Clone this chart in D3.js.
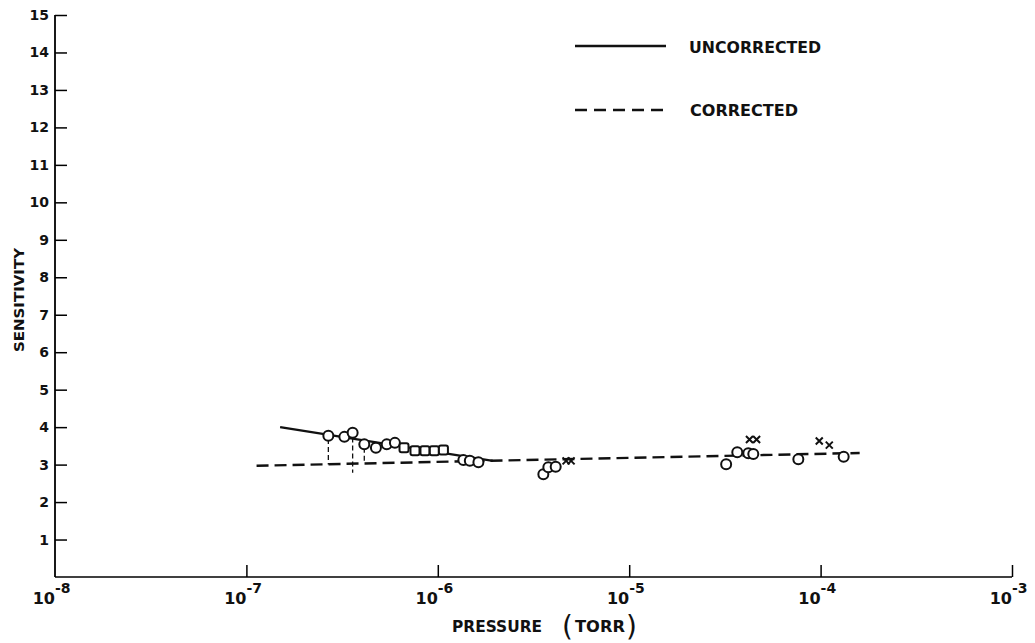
<!DOCTYPE html>
<html>
<head>
<meta charset="utf-8">
<script src="https://cdn.jsdelivr.net/npm/d3@7"></script>
<style>
  body { margin: 0; background: #fff; }
  text { font-family: "DejaVu Sans", sans-serif; font-weight: bold; fill: #111; }
</style>
</head>
<body>
<div id="chart"></div>
<script>
// values
const yTicks = [1,2,3,4,5,6,7,8,9,10,11,12,13,14,15]
const xExponents = [-8,-7,-6,-5,-4,-3]

const uncorrectedP = [1.5e-7, 1.94e-6]
const uncorrectedS = [4.0, 3.1]
const correctedP = [1.13e-7, 1.6e-4]
const correctedS = [2.97, 3.31]

const circleP = [2.68e-7, 3.25e-7, 3.59e-7, 4.13e-7, 4.75e-7, 5.41e-7, 5.97e-7,
  1.36e-6, 1.47e-6, 1.63e-6, 3.56e-6, 3.78e-6, 4.13e-6,
  3.21e-5, 3.67e-5, 4.19e-5, 4.45e-5, 7.65e-5, 1.32e-4]
const circleS = [3.77, 3.74, 3.85, 3.54, 3.45, 3.54, 3.58,
  3.12, 3.10, 3.06, 2.74, 2.93, 2.94,
  3.01, 3.33, 3.30, 3.28, 3.14, 3.21]
const squareP = [6.66e-7, 7.6e-7, 8.57e-7, 9.59e-7, 1.07e-6]
const squareS = [3.45, 3.37, 3.37, 3.37, 3.39]
const crossP = [4.68e-6, 4.97e-6, 4.25e-5, 4.63e-5, 9.84e-5, 1.11e-4]
const crossS = [3.10, 3.10, 3.67, 3.67, 3.63, 3.52]

// vertical correction drops
const dropP = [2.68e-7, 3.59e-7, 4.13e-7]
const dropTop = [3.68, 3.72, 3.45]
const dropBottom = [3.0, 2.78, 3.05]

const width = 1035, height = 643

const svg = d3.select("#chart").append("svg")
  .attr("width", width)
  .attr("height", height)

const x = d3.scaleLog().domain([1e-8, 1e-3]).range([55, 1012])
const y = d3.scaleLinear().domain([0, 15]).range([577, 15])

// axes
const yAxis = svg.append("g")
  .attr("transform", `translate(${x(1e-8)},0)`)
  .call(d3.axisRight(y).tickValues(yTicks).tickSize(12).tickFormat(""))
yAxis.select(".domain").attr("stroke-width", 1.8).attr("d", `M0,${y(15)}V${y(0)}`)
yAxis.selectAll(".tick line").attr("stroke-width", 1.5)

const xAxis = svg.append("g")
  .attr("transform", `translate(0,${y(0)})`)
  .call(d3.axisTop(x).tickValues(xExponents.slice(1).map(e => Math.pow(10, e))).tickSize(12).tickFormat(""))
xAxis.select(".domain").attr("stroke-width", 1.5).attr("d", `M${x(1e-8)},0H${x(1e-3)}`)
xAxis.selectAll(".tick line").attr("stroke-width", 1.5)

// y tick labels
svg.selectAll(".ylab")
  .data(yTicks)
  .join("text")
    .attr("x", 49)
    .attr("y", d => y(d) + 5)
    .attr("text-anchor", "end")
    .style("font-size", "14px")
    .text(d => d)

// x tick labels 10^n
xExponents.forEach(e => {
  const px = x(Math.pow(10, e))
  svg.append("text")
    .attr("x", px)
    .attr("y", 604)
    .attr("text-anchor", "end")
    .style("font-size", "16px")
    .text("10")
  svg.append("text")
    .attr("x", px)
    .attr("y", 593)
    .attr("text-anchor", "start")
    .style("font-size", "14px")
    .text(e)
})

// axis titles
svg.append("text")
  .attr("transform", "translate(24,300) rotate(-90)")
  .attr("text-anchor", "middle")
  .style("font-size", "14px")
  .attr("textLength", 104)
  .attr("lengthAdjust", "spacingAndGlyphs")
  .text("SENSITIVITY")

svg.append("text")
  .attr("x", 452)
  .attr("y", 632)
  .style("font-size", "15px")
  .attr("textLength", 90)
  .attr("lengthAdjust", "spacingAndGlyphs")
  .text("PRESSURE")
svg.append("text")
  .attr("x", 575)
  .attr("y", 632)
  .style("font-size", "15px")
  .attr("textLength", 50)
  .attr("lengthAdjust", "spacingAndGlyphs")
  .text("TORR")
svg.append("text")
  .attr("x", 562)
  .attr("y", 636)
  .style("font-size", "28px")
  .style("font-weight", "normal")
  .text("(")
svg.append("text")
  .attr("x", 626)
  .attr("y", 636)
  .style("font-size", "28px")
  .style("font-weight", "normal")
  .text(")")

// lines
const line = d3.line().x(d => x(d[0])).y(d => y(d[1]))

svg.append("path")
  .datum(correctedP.map((p, i) => [p, correctedS[i]]))
  .attr("d", line)
  .attr("fill", "none")
  .attr("stroke", "#111")
  .attr("stroke-width", 2.4)
  .attr("stroke-dasharray", "12,6")

svg.append("path")
  .datum(uncorrectedP.map((p, i) => [p, uncorrectedS[i]]))
  .attr("d", line)
  .attr("fill", "none")
  .attr("stroke", "#111")
  .attr("stroke-width", 2.4)

svg.selectAll(".drop")
  .data(dropP)
  .join("line")
    .attr("x1", d => x(d))
    .attr("x2", d => x(d))
    .attr("y1", (d, i) => y(dropTop[i]))
    .attr("y2", (d, i) => y(dropBottom[i]))
    .attr("stroke", "#111")
    .attr("stroke-width", 1.3)
    .attr("stroke-dasharray", "5,3")

// markers
svg.selectAll(".circ")
  .data(circleP)
  .join("circle")
    .attr("cx", d => x(d))
    .attr("cy", (d, i) => y(circleS[i]))
    .attr("r", 5)
    .attr("fill", "#fff")
    .attr("stroke", "#111")
    .attr("stroke-width", 2)

svg.selectAll(".sq")
  .data(squareP)
  .join("rect")
    .attr("x", d => x(d) - 4.5)
    .attr("y", (d, i) => y(squareS[i]) - 4.5)
    .attr("width", 9)
    .attr("height", 9)
    .attr("rx", 2)
    .attr("fill", "#fff")
    .attr("stroke", "#111")
    .attr("stroke-width", 2)

svg.selectAll(".cross")
  .data(crossP)
  .join("path")
    .attr("d", (d, i) => {
      const cx = x(d), cy = y(crossS[i]), s = 3.5
      return `M${cx - s},${cy - s}L${cx + s},${cy + s}M${cx - s},${cy + s}L${cx + s},${cy - s}`
    })
    .attr("stroke", "#111")
    .attr("stroke-width", 2)

// legend
svg.append("line")
  .attr("x1", 575).attr("x2", 666)
  .attr("y1", 46).attr("y2", 46)
  .attr("stroke", "#111").attr("stroke-width", 2.6)
svg.append("text")
  .attr("x", 689).attr("y", 53)
  .style("font-size", "15px")
  .attr("textLength", 132)
  .attr("lengthAdjust", "spacingAndGlyphs")
  .text("UNCORRECTED")

svg.append("line")
  .attr("x1", 575).attr("x2", 666)
  .attr("y1", 110).attr("y2", 110)
  .attr("stroke", "#111").attr("stroke-width", 2.6)
  .attr("stroke-dasharray", "12,7")
svg.append("text")
  .attr("x", 690).attr("y", 116)
  .style("font-size", "15px")
  .attr("textLength", 108)
  .attr("lengthAdjust", "spacingAndGlyphs")
  .text("CORRECTED")
</script>
</body>
</html>
